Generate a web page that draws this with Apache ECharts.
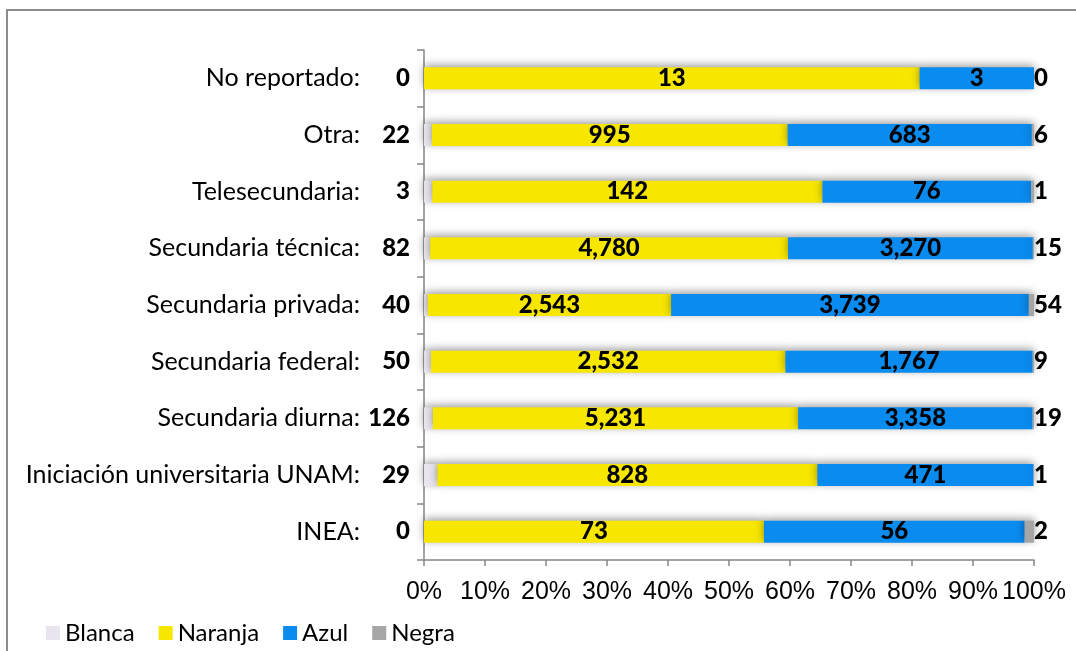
<!DOCTYPE html>
<html>
<head>
<meta charset="utf-8">
<script src="https://cdn.jsdelivr.net/npm/echarts@6/dist/echarts.min.js"></script>
<style>
  html, body { margin: 0; padding: 0; background: #fff; }
  #wrap { position: relative; width: 1076px; height: 651px; overflow: hidden; }
  /* marco del gráfico */
  #frame {
    position: absolute; left: 6px; top: 9px; width: 1200px; height: 800px;
    border-left: 2px solid #8c8c8c; border-top: 2px solid #8c8c8c;
  }
  #chart { position: absolute; left: 0; top: 0; width: 1076px; height: 651px; }
</style>
</head>
<body>
<div id="wrap">
  <div id="frame"></div>
  <div id="chart"></div>
</div>
<script>
// categorías (de abajo hacia arriba)
const categories = [
  "INEA:",
  "Iniciación universitaria UNAM:",
  "Secundaria diurna:",
  "Secundaria federal:",
  "Secundaria privada:",
  "Secundaria técnica:",
  "Telesecundaria:",
  "Otra:",
  "No reportado:"
];
const blanca  = [0, 29, 126, 50, 40, 82, 3, 22, 0];
const naranja = [73, 828, 5231, 2532, 2543, 4780, 142, 995, 13];
const azul    = [56, 471, 3358, 1767, 3739, 3270, 76, 683, 3];
const negra   = [2, 1, 19, 9, 54, 15, 1, 6, 0];
const xTicks = [0, 10, 20, 30, 40, 50, 60, 70, 80, 90, 100];

const totals = categories.map((_, i) => blanca[i] + naranja[i] + azul[i] + negra[i]);
const pct = (arr) => arr.map((v, i) => (totals[i] ? (v / totals[i]) * 100 : 0));
const fmt = (v) => v.toLocaleString("en-US");

const chart = echarts.init(document.getElementById("chart"));

const boldLabel = {
  fontFamily: "Lato",
  fontWeight: 900,
  fontSize: 24,
  color: "#000"
};
const shadow = {
  shadowBlur: 9,
  shadowColor: "rgba(0,0,0,0.4)",
  shadowOffsetY: -2
};

const mkSeries = (name, raw, color, labelPos, dist) => ({
  name: name,
  type: "bar",
  stack: "total",
  barWidth: 22,
  data: pct(raw),
  itemStyle: Object.assign({ color: color }, shadow),
  label: Object.assign({
    show: true,
    position: labelPos,
    distance: dist,
    formatter: (p) => fmt(raw[p.dataIndex])
  }, boldLabel),
  emphasis: { disabled: true }
});

const option = {
  animation: false,
  grid: { left: 424, right: 42, top: 50, bottom: 91 },
  legend: {
    left: 46,
    top: 621,
    padding: 0,
    itemWidth: 14,
    itemHeight: 14,
    itemGap: 24,
    icon: "rect",
    textStyle: { fontFamily: "Lato", fontSize: 24, color: "#000" },
    data: ["Blanca", "Naranja", "Azul", "Negra"]
  },
  xAxis: {
    type: "value",
    min: xTicks[0],
    max: xTicks[xTicks.length - 1],
    interval: 10,
    axisLine: { show: true, lineStyle: { color: "#868686", width: 1.5 } },
    axisTick: { show: true, length: 6, lineStyle: { color: "#868686", width: 1.5 } },
    splitLine: { show: false },
    axisLabel: {
      formatter: "{value}%",
      margin: 20,
      fontFamily: "Liberation Sans",
      fontSize: 25,
      color: "#000"
    }
  },
  yAxis: {
    type: "category",
    data: categories,
    axisLine: { show: true, lineStyle: { color: "#868686", width: 1.5 } },
    axisTick: { show: true, length: 7, lineStyle: { color: "#868686", width: 1.5 } },
    axisLabel: {
      margin: 64,
      fontFamily: "Lato",
      fontSize: 25,
      color: "#000"
    }
  },
  series: [
    mkSeries("Blanca", blanca, "#E9E5EE", "left", 14),
    mkSeries("Naranja", naranja, "#F7E600", "inside", 0),
    mkSeries("Azul", azul, "#0A8BEF", "inside", 0),
    mkSeries("Negra", negra, "#A6A6A6", "right", 0)
  ]
};

chart.setOption(option);
window.addEventListener("resize", () => chart.resize());
</script>
</body>
</html>
